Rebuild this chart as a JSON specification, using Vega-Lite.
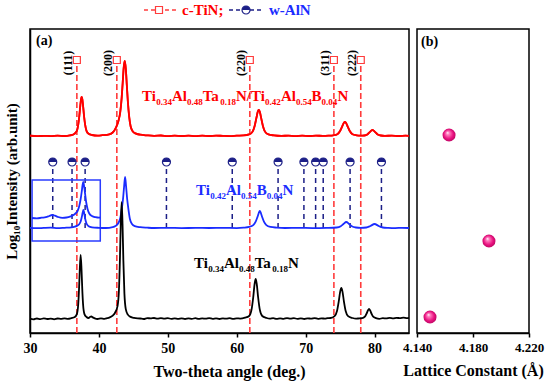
{
 "$schema": "https://vega.github.io/schema/vega-lite/v6.json",
 "padding": {"left": 3, "top": 2, "right": 5, "bottom": 5},
 "spacing": 8,
 "bounds": "flush",
 "config": {
  "font": "Liberation Serif",
  "view": {"stroke": "black", "strokeWidth": 1.5},
  "axis": {"labelFont": "Liberation Serif", "labelFontWeight": "bold", "labelFontSize": 14, "labelColor": "black", "titleFont": "Liberation Serif", "titleFontWeight": "bold", "titleFontSize": 16, "titleColor": "black", "domainColor": "black", "domainWidth": 1.5, "tickColor": "black", "tickWidth": 1.5, "tickSize": 4, "grid": false, "labelPadding": 4, "titlePadding": 8}
 },
 "datasets": {
  "red": [{"x":30,"y":197.3},{"x":31,"y":196.8},{"x":32,"y":197.2},{"x":33,"y":196.9},{"x":34,"y":197.4},{"x":35,"y":197.0},{"x":35.8,"y":197.6},{"x":36.3,"y":198.5},{"x":36.8,"y":202.1},{"x":37.0,"y":208.3},{"x":37.15,"y":216.5},{"x":37.3,"y":227.4},{"x":37.4,"y":233.7},{"x":37.5,"y":236},{"x":37.6,"y":233.7},{"x":37.7,"y":227.4},{"x":37.85,"y":216.5},{"x":38.0,"y":208.3},{"x":38.2,"y":202.1},{"x":38.5,"y":199.2},{"x":39.0,"y":198.0},{"x":39.8,"y":197.4},{"x":40.5,"y":197.8},{"x":41.5,"y":198.7},{"x":42.0,"y":200.5},{"x":42.3,"y":203.1},{"x":42.6,"y":207.4},{"x":42.85,"y":212.5},{"x":43.1,"y":221.2},{"x":43.3,"y":234.9},{"x":43.45,"y":250},{"x":43.6,"y":265.4},{"x":43.75,"y":272},{"x":43.9,"y":264.4},{"x":44.05,"y":247.9},{"x":44.2,"y":231.5},{"x":44.4,"y":215.8},{"x":44.6,"y":206.7},{"x":44.9,"y":201.8},{"x":45.3,"y":199.6},{"x":46.0,"y":198.3},{"x":47.0,"y":197.6},{"x":48,"y":197.2},{"x":49,"y":197.5},{"x":50,"y":196.9},{"x":51,"y":197.3},{"x":52,"y":197.0},{"x":53,"y":197.4},{"x":54,"y":196.8},{"x":55,"y":197.3},{"x":56,"y":197.0},{"x":57,"y":197.4},{"x":58,"y":197.1},{"x":59,"y":196.9},{"x":60,"y":197.3},{"x":61.0,"y":197.6},{"x":61.8,"y":198.6},{"x":62.3,"y":201.4},{"x":62.6,"y":207.1},{"x":62.85,"y":214.9},{"x":63.05,"y":221.2},{"x":63.2,"y":223},{"x":63.35,"y":221.2},{"x":63.55,"y":214.9},{"x":63.8,"y":207.1},{"x":64.1,"y":201.4},{"x":64.6,"y":198.6},{"x":65.4,"y":197.6},{"x":66.5,"y":197.1},{"x":67.5,"y":197.4},{"x":68.5,"y":196.9},{"x":69.5,"y":197.3},{"x":70.5,"y":197.0},{"x":71.5,"y":197.4},{"x":72.5,"y":197.1},{"x":73.3,"y":197.3},{"x":74.0,"y":197.7},{"x":74.6,"y":198.8},{"x":75.0,"y":202},{"x":75.3,"y":206.4},{"x":75.55,"y":210.2},{"x":75.7,"y":211},{"x":75.85,"y":210.2},{"x":76.1,"y":206.4},{"x":76.4,"y":202},{"x":76.8,"y":198.8},{"x":77.4,"y":197.7},{"x":78.0,"y":197.3},{"x":78.5,"y":197.5},{"x":79.0,"y":198.8},{"x":79.3,"y":200.8},{"x":79.55,"y":202.6},{"x":79.7,"y":203},{"x":79.85,"y":202.6},{"x":80.1,"y":200.8},{"x":80.4,"y":198.8},{"x":80.9,"y":197.5},{"x":81.5,"y":197.1},{"x":82.5,"y":197.4},{"x":83.5,"y":197.0},{"x":84.5,"y":197.3},{"x":85,"y":197.1}],
  "blue": [{"x":30,"y":105.2},{"x":31,"y":104.8},{"x":32,"y":105.1},{"x":33,"y":105.3},{"x":34,"y":104.9},{"x":35,"y":105.2},{"x":36,"y":105.6},{"x":36.5,"y":106.3},{"x":36.8,"y":107.1},{"x":37.1,"y":108.5},{"x":37.35,"y":111.5},{"x":37.5,"y":115.5},{"x":37.65,"y":120.5},{"x":37.75,"y":123},{"x":37.85,"y":120.5},{"x":38.0,"y":114.5},{"x":38.2,"y":109.5},{"x":38.5,"y":106.8},{"x":39.0,"y":105.7},{"x":40,"y":105.2},{"x":41,"y":105.0},{"x":42,"y":105.9},{"x":42.4,"y":107.0},{"x":42.8,"y":109.7},{"x":43.1,"y":115},{"x":43.35,"y":125.5},{"x":43.5,"y":134},{"x":43.65,"y":146},{"x":43.8,"y":156},{"x":43.95,"y":146},{"x":44.1,"y":134},{"x":44.25,"y":125.5},{"x":44.5,"y":114},{"x":44.8,"y":109},{"x":45.2,"y":106.8},{"x":46,"y":105.8},{"x":47,"y":105.3},{"x":48,"y":105.0},{"x":50,"y":105.2},{"x":52,"y":104.9},{"x":54,"y":105.1},{"x":56,"y":105.0},{"x":58,"y":105.2},{"x":60,"y":104.9},{"x":61,"y":105.3},{"x":61.8,"y":106.1},{"x":62.4,"y":107.9},{"x":62.75,"y":111.3},{"x":63.0,"y":115.8},{"x":63.2,"y":120},{"x":63.35,"y":122},{"x":63.5,"y":120},{"x":63.7,"y":115.8},{"x":63.95,"y":111.3},{"x":64.3,"y":107.9},{"x":64.9,"y":106.1},{"x":65.8,"y":105.4},{"x":67,"y":105.0},{"x":69,"y":105.2},{"x":71,"y":104.9},{"x":73,"y":105.1},{"x":74.5,"y":105.5},{"x":75.1,"y":106.8},{"x":75.5,"y":109},{"x":75.9,"y":111},{"x":76.3,"y":109},{"x":76.7,"y":106.8},{"x":77.3,"y":105.5},{"x":78,"y":105.1},{"x":78.8,"y":105.5},{"x":79.4,"y":107},{"x":80.0,"y":109},{"x":80.6,"y":107},{"x":81.2,"y":105.5},{"x":82,"y":105.1},{"x":83,"y":104.9},{"x":84,"y":105.2},{"x":85,"y":105.0}],
  "inset": [{"x":30.3,"y":115},{"x":31,"y":114.6},{"x":31.7,"y":115.3},{"x":32.3,"y":115.8},{"x":32.8,"y":117},{"x":33.2,"y":118},{"x":33.6,"y":117.4},{"x":34.1,"y":116},{"x":34.7,"y":115.2},{"x":35.3,"y":115.5},{"x":35.8,"y":116.3},{"x":36.2,"y":117.5},{"x":36.6,"y":119.5},{"x":36.9,"y":122},{"x":37.15,"y":127},{"x":37.35,"y":134},{"x":37.5,"y":141},{"x":37.62,"y":147.5},{"x":37.73,"y":151},{"x":37.85,"y":147},{"x":38.0,"y":139},{"x":38.15,"y":131},{"x":38.35,"y":124},{"x":38.6,"y":119.5},{"x":39.0,"y":117},{"x":39.5,"y":115.8},{"x":40.0,"y":115.3},{"x":40.2,"y":115.5}],
  "black": [{"x":30,"y":14.3},{"x":30.5,"y":13.6},{"x":31,"y":14.5},{"x":31.5,"y":13.9},{"x":32,"y":14.6},{"x":32.5,"y":14.0},{"x":33,"y":14.4},{"x":33.5,"y":13.7},{"x":34,"y":14.5},{"x":34.5,"y":14.1},{"x":35,"y":14.6},{"x":35.5,"y":14.2},{"x":36,"y":14.9},{"x":36.5,"y":16.0},{"x":36.8,"y":18.9},{"x":37.0,"y":28.7},{"x":37.12,"y":44.7},{"x":37.22,"y":63},{"x":37.35,"y":78},{"x":37.48,"y":63},{"x":37.58,"y":44.7},{"x":37.7,"y":28.7},{"x":37.9,"y":18.9},{"x":38.2,"y":16.0},{"x":38.5,"y":15.0},{"x":38.75,"y":16.2},{"x":38.9,"y":16.5},{"x":39.1,"y":15.6},{"x":39.4,"y":14.6},{"x":39.8,"y":14.0},{"x":40.3,"y":14.6},{"x":40.8,"y":14.2},{"x":41.2,"y":14.8},{"x":41.5,"y":15.4},{"x":42.0,"y":17.3},{"x":42.4,"y":21.0},{"x":42.7,"y":26.8},{"x":42.9,"y":41.8},{"x":43.05,"y":73.7},{"x":43.17,"y":109.2},{"x":43.3,"y":130.8},{"x":43.43,"y":108.5},{"x":43.55,"y":72.3},{"x":43.7,"y":39.6},{"x":43.9,"y":23.9},{"x":44.2,"y":18.4},{"x":44.6,"y":16.1},{"x":45.1,"y":15.1},{"x":46,"y":14.5},{"x":46.5,"y":14.0},{"x":47,"y":14.9},{"x":47.5,"y":14.6},{"x":48,"y":15.0},{"x":48.5,"y":14.4},{"x":49,"y":14.9},{"x":49.5,"y":14.3},{"x":50,"y":14.8},{"x":50.5,"y":14.2},{"x":51,"y":14.7},{"x":51.5,"y":14.1},{"x":52,"y":14.6},{"x":52.5,"y":14.0},{"x":53,"y":14.7},{"x":53.5,"y":14.2},{"x":54,"y":14.8},{"x":54.5,"y":14.1},{"x":55,"y":14.6},{"x":55.5,"y":14.3},{"x":56,"y":14.9},{"x":56.5,"y":14.2},{"x":57,"y":14.7},{"x":57.5,"y":14.0},{"x":58,"y":14.6},{"x":58.5,"y":14.3},{"x":59,"y":14.8},{"x":59.5,"y":14.1},{"x":60,"y":14.7},{"x":60.5,"y":14.4},{"x":61.2,"y":15.3},{"x":61.8,"y":17.0},{"x":62.15,"y":23.3},{"x":62.4,"y":36},{"x":62.6,"y":49.3},{"x":62.75,"y":54},{"x":62.9,"y":49.3},{"x":63.1,"y":36},{"x":63.35,"y":23.3},{"x":63.7,"y":17.0},{"x":64.3,"y":15.1},{"x":64.8,"y":14.3},{"x":65.3,"y":14.8},{"x":65.8,"y":14.1},{"x":66.3,"y":14.7},{"x":66.8,"y":14.2},{"x":67.3,"y":14.9},{"x":67.8,"y":14.3},{"x":68.3,"y":14.8},{"x":68.8,"y":14.2},{"x":69.3,"y":14.6},{"x":69.8,"y":14.0},{"x":70.3,"y":14.7},{"x":70.8,"y":14.3},{"x":71.3,"y":14.9},{"x":71.8,"y":14.2},{"x":72.3,"y":14.6},{"x":72.8,"y":14.4},{"x":73.2,"y":14.9},{"x":73.6,"y":15.0},{"x":74.2,"y":16.9},{"x":74.55,"y":22.0},{"x":74.8,"y":31.4},{"x":75.02,"y":41.6},{"x":75.18,"y":45},{"x":75.34,"y":41.6},{"x":75.56,"y":31.4},{"x":75.81,"y":22.0},{"x":76.16,"y":16.9},{"x":76.8,"y":15.0},{"x":77.3,"y":14.3},{"x":77.8,"y":14.7},{"x":78.2,"y":14.8},{"x":78.6,"y":16.3},{"x":78.85,"y":19.5},{"x":79.05,"y":22.8},{"x":79.2,"y":24},{"x":79.35,"y":22.8},{"x":79.55,"y":19.5},{"x":79.8,"y":16.3},{"x":80.2,"y":14.9},{"x":80.7,"y":14.2},{"x":81.2,"y":14.8},{"x":81.7,"y":14.6},{"x":82.2,"y":15.1},{"x":82.7,"y":14.7},{"x":83.2,"y":15.2},{"x":83.7,"y":14.8},{"x":84.2,"y":15.3},{"x":84.7,"y":14.9},{"x":85,"y":15.2}],
  "tin": [{"x":36.8,"hkl":"(111)"},{"x":42.6,"hkl":"(200)"},{"x":61.9,"hkl":"(220)"},{"x":74.1,"hkl":"(311)"},{"x":78.0,"hkl":"(222)"}],
  "aln": [{"x":33.3},{"x":36.1},{"x":38.0},{"x":49.8},{"x":59.35},{"x":66.0},{"x":69.75},{"x":71.45},{"x":72.55},{"x":76.45},{"x":81.0}],
  "labels": [
   {"s":"TiAlTaN/TiAlBN","part":"main","x":46.253,"y":232,"t":"Ti"},
   {"s":"TiAlTaN/TiAlBN","part":"sub","x":48.314,"y":228,"t":"0.34"},
   {"s":"TiAlTaN/TiAlBN","part":"main","x":50.592,"y":232,"t":"Al"},
   {"s":"TiAlTaN/TiAlBN","part":"sub","x":52.769,"y":228,"t":"0.48"},
   {"s":"TiAlTaN/TiAlBN","part":"main","x":55.062,"y":232,"t":"Ta"},
   {"s":"TiAlTaN/TiAlBN","part":"sub","x":57.602,"y":228,"t":"0.18"},
   {"s":"TiAlTaN/TiAlBN","part":"main","x":59.880,"y":232,"t":"N/Ti"},
   {"s":"TiAlTaN/TiAlBN","part":"sub","x":64.117,"y":228,"t":"0.42"},
   {"s":"TiAlTaN/TiAlBN","part":"main","x":66.410,"y":232,"t":"Al"},
   {"s":"TiAlTaN/TiAlBN","part":"sub","x":68.587,"y":228,"t":"0.54"},
   {"s":"TiAlTaN/TiAlBN","part":"main","x":70.865,"y":232,"t":"B"},
   {"s":"TiAlTaN/TiAlBN","part":"sub","x":72.316,"y":228,"t":"0.04"},
   {"s":"TiAlTaN/TiAlBN","part":"main","x":74.610,"y":232,"t":"N"},
   {"s":"TiAlBN","part":"main","x":54.090,"y":138,"t":"Ti"},
   {"s":"TiAlBN","part":"sub","x":56.151,"y":134,"t":"0.42"},
   {"s":"TiAlBN","part":"main","x":58.436,"y":138,"t":"Al"},
   {"s":"TiAlBN","part":"sub","x":60.613,"y":134,"t":"0.54"},
   {"s":"TiAlBN","part":"main","x":62.898,"y":138,"t":"B"},
   {"s":"TiAlBN","part":"sub","x":64.350,"y":134,"t":"0.04"},
   {"s":"TiAlBN","part":"main","x":66.635,"y":138,"t":"N"},
   {"s":"TiAlTaN","part":"main","x":53.799,"y":65,"t":"Ti"},
   {"s":"TiAlTaN","part":"sub","x":55.860,"y":61,"t":"0.34"},
   {"s":"TiAlTaN","part":"main","x":58.146,"y":65,"t":"Al"},
   {"s":"TiAlTaN","part":"sub","x":60.323,"y":61,"t":"0.48"},
   {"s":"TiAlTaN","part":"main","x":62.609,"y":65,"t":"Ta"},
   {"s":"TiAlTaN","part":"sub","x":65.148,"y":61,"t":"0.18"},
   {"s":"TiAlTaN","part":"main","x":67.434,"y":65,"t":"N"}
  ],
  "legend": [
   {"s":"c-TiN","x":46.54,"x2":51.19,"xm":48.72,"tx":52.06,"y":323,"t":"c-TiN;"},
   {"s":"w-AlN","x":58.88,"x2":63.67,"xm":61.35,"tx":64.68,"y":323,"t":"w-AlN"}
  ],
  "lattice": [
   {"s":"Ti0.34Al0.48Ta0.18N/Ti0.42Al0.54B0.04N","a":4.1629,"y":198},
   {"s":"Ti0.42Al0.54B0.04N","a":4.1914,"y":92},
   {"s":"Ti0.34Al0.48Ta0.18N","a":4.1493,"y":16}
  ]
 },
 "hconcat": [
  {
   "width": 379, "height": 304,
   "layer": [
    {"data": {"name": "red"}, "mark": {"type": "line", "color": "#ff0000", "strokeWidth": 1.8, "interpolate": "monotone"},
     "encoding": {
      "x": {"field": "x", "type": "quantitative", "scale": {"domain": [30, 85], "nice": false, "zero": false},
            "axis": {"title": "Two-theta angle (deg.)", "values": [30,35,40,45,50,55,60,65,70,75,80], "labelExpr": "datum.value % 10 === 0 ? datum.label : ''", "labelFlush": false, "labelOverlap": false, "titleX": 199}},
      "y": {"field": "y", "type": "quantitative", "scale": {"domain": [0, 304], "nice": false, "zero": false},
            "axis": {"title": "Log₁₀Intensity (arb.unit)", "labels": false, "ticks": false, "titleFontSize": 15, "titlePadding": 11}}
     }},
    {"data": {"name": "tin"}, "mark": {"type": "rule", "color": "#ff3c3c", "strokeWidth": 1.6, "strokeDash": [6, 3]},
     "encoding": {"x": {"field": "x", "type": "quantitative", "scale": {"domain": [30, 85], "nice": false, "zero": false}},
                  "y": {"datum": 0, "type": "quantitative", "scale": {"domain": [0, 304], "nice": false, "zero": false}}, "y2": {"datum": 269}}},
    {"data": {"name": "aln"}, "mark": {"type": "rule", "color": "#1c1f87", "strokeWidth": 1.5, "strokeDash": [5, 4]},
     "encoding": {"x": {"field": "x", "type": "quantitative", "scale": {"domain": [30, 85], "nice": false, "zero": false}},
                  "y": {"datum": 105, "type": "quantitative", "scale": {"domain": [0, 304], "nice": false, "zero": false}}, "y2": {"datum": 166}}},
    {"data": {"values": [{"x": 30.3, "x2": 40.2, "y": 92, "y2": 153}]}, "mark": {"type": "rect", "filled": false, "color": "#2a3cff", "strokeWidth": 1.5},
     "encoding": {"x": {"field": "x", "type": "quantitative", "scale": {"domain": [30, 85], "nice": false, "zero": false}}, "x2": {"field": "x2"},
                  "y": {"field": "y", "type": "quantitative", "scale": {"domain": [0, 304], "nice": false, "zero": false}}, "y2": {"field": "y2"}}},
    {"data": {"name": "red"}, "mark": {"type": "line", "color": "#ff0000", "strokeWidth": 1.8, "interpolate": "monotone"},
     "encoding": {"x": {"field": "x", "type": "quantitative", "scale": {"domain": [30, 85], "nice": false, "zero": false}},
                  "y": {"field": "y", "type": "quantitative", "scale": {"domain": [0, 304], "nice": false, "zero": false}}}},
    {"data": {"name": "blue"}, "mark": {"type": "line", "color": "#1a2cff", "strokeWidth": 1.8, "interpolate": "monotone"},
     "encoding": {"x": {"field": "x", "type": "quantitative", "scale": {"domain": [30, 85], "nice": false, "zero": false}},
                  "y": {"field": "y", "type": "quantitative", "scale": {"domain": [0, 304], "nice": false, "zero": false}}}},
    {"data": {"name": "inset"}, "mark": {"type": "line", "color": "#1a2cff", "strokeWidth": 1.8, "interpolate": "monotone"},
     "encoding": {"x": {"field": "x", "type": "quantitative", "scale": {"domain": [30, 85], "nice": false, "zero": false}},
                  "y": {"field": "y", "type": "quantitative", "scale": {"domain": [0, 304], "nice": false, "zero": false}}}},
    {"data": {"name": "black"}, "mark": {"type": "line", "color": "#000000", "strokeWidth": 1.8, "interpolate": "monotone"},
     "encoding": {"x": {"field": "x", "type": "quantitative", "scale": {"domain": [30, 85], "nice": false, "zero": false}},
                  "y": {"field": "y", "type": "quantitative", "scale": {"domain": [0, 304], "nice": false, "zero": false}}}},
    {"data": {"name": "tin"}, "mark": {"type": "point", "shape": "square", "size": 49, "filled": false, "fill": "white", "fillOpacity": 1, "stroke": "#ff3c3c", "strokeWidth": 1.2, "opacity": 1},
     "encoding": {"x": {"field": "x", "type": "quantitative", "scale": {"domain": [30, 85], "nice": false, "zero": false}},
                  "y": {"datum": 273, "type": "quantitative", "scale": {"domain": [0, 304], "nice": false, "zero": false}}}},
    {"data": {"name": "aln"}, "mark": {"type": "point", "shape": "circle", "size": 64, "filled": false, "fill": "white", "fillOpacity": 1, "stroke": "#1c1f87", "strokeWidth": 1.2, "opacity": 1},
     "encoding": {"x": {"field": "x", "type": "quantitative", "scale": {"domain": [30, 85], "nice": false, "zero": false}},
                  "y": {"datum": 171, "type": "quantitative", "scale": {"domain": [0, 304], "nice": false, "zero": false}}}},
    {"data": {"name": "aln"}, "mark": {"type": "point", "shape": "M-1,0A1,1,0,0,1,1,0Z", "size": 64, "filled": true, "color": "#1c1f87", "opacity": 1},
     "encoding": {"x": {"field": "x", "type": "quantitative", "scale": {"domain": [30, 85], "nice": false, "zero": false}},
                  "y": {"datum": 171, "type": "quantitative", "scale": {"domain": [0, 304], "nice": false, "zero": false}}}},
    {"data": {"name": "tin"}, "mark": {"type": "text", "angle": 270, "dy": -9, "align": "center", "baseline": "middle", "font": "Liberation Serif", "fontWeight": "bold", "fontSize": 12, "color": "black"},
     "encoding": {"x": {"field": "x", "type": "quantitative", "scale": {"domain": [30, 85], "nice": false, "zero": false}},
                  "y": {"datum": 270, "type": "quantitative", "scale": {"domain": [0, 304], "nice": false, "zero": false}}, "text": {"field": "hkl"}}},
    {"data": {"name": "labels"}, "transform": [{"filter": "datum.part === 'main'"}],
     "mark": {"type": "text", "align": "left", "baseline": "alphabetic", "font": "Liberation Serif", "fontWeight": "bold", "fontSize": 15},
     "encoding": {"x": {"field": "x", "type": "quantitative", "scale": {"domain": [30, 85], "nice": false, "zero": false}},
                  "y": {"field": "y", "type": "quantitative", "scale": {"domain": [0, 304], "nice": false, "zero": false}},
                  "text": {"field": "t"}, "color": {"field": "s", "type": "nominal", "legend": null, "scale": {"domain": ["TiAlTaN/TiAlBN", "TiAlBN", "TiAlTaN"], "range": ["#ff0000", "#1a2cff", "#000000"]}}}},
    {"data": {"name": "labels"}, "transform": [{"filter": "datum.part === 'sub'"}],
     "mark": {"type": "text", "align": "left", "baseline": "alphabetic", "font": "Liberation Serif", "fontWeight": "bold", "fontSize": 9},
     "encoding": {"x": {"field": "x", "type": "quantitative", "scale": {"domain": [30, 85], "nice": false, "zero": false}},
                  "y": {"field": "y", "type": "quantitative", "scale": {"domain": [0, 304], "nice": false, "zero": false}},
                  "text": {"field": "t"}, "color": {"field": "s", "type": "nominal", "legend": null, "scale": {"domain": ["TiAlTaN/TiAlBN", "TiAlBN", "TiAlTaN"], "range": ["#ff0000", "#1a2cff", "#000000"]}}}},
    {"data": {"name": "legend"}, "transform": [{"filter": "datum.s === 'c-TiN'"}], "mark": {"type": "rule", "color": "#ff3c3c", "strokeWidth": 1.3, "strokeDash": [4, 3]},
     "encoding": {"x": {"field": "x", "type": "quantitative", "scale": {"domain": [30, 85], "nice": false, "zero": false}}, "x2": {"field": "x2"},
                  "y": {"field": "y", "type": "quantitative", "scale": {"domain": [0, 304], "nice": false, "zero": false}}}},
    {"data": {"name": "legend"}, "transform": [{"filter": "datum.s === 'w-AlN'"}], "mark": {"type": "rule", "color": "#1c1f87", "strokeWidth": 1.3, "strokeDash": [4, 3]},
     "encoding": {"x": {"field": "x", "type": "quantitative", "scale": {"domain": [30, 85], "nice": false, "zero": false}}, "x2": {"field": "x2"},
                  "y": {"field": "y", "type": "quantitative", "scale": {"domain": [0, 304], "nice": false, "zero": false}}}},
    {"data": {"name": "legend"}, "transform": [{"filter": "datum.s === 'c-TiN'"}], "mark": {"type": "point", "shape": "square", "size": 49, "filled": false, "fill": "white", "fillOpacity": 1, "stroke": "#ff3c3c", "strokeWidth": 1.2, "opacity": 1},
     "encoding": {"x": {"field": "xm", "type": "quantitative", "scale": {"domain": [30, 85], "nice": false, "zero": false}},
                  "y": {"field": "y", "type": "quantitative", "scale": {"domain": [0, 304], "nice": false, "zero": false}}}},
    {"data": {"name": "legend"}, "transform": [{"filter": "datum.s === 'w-AlN'"}], "mark": {"type": "point", "shape": "circle", "size": 64, "filled": false, "fill": "white", "fillOpacity": 1, "stroke": "#1c1f87", "strokeWidth": 1.2, "opacity": 1},
     "encoding": {"x": {"field": "xm", "type": "quantitative", "scale": {"domain": [30, 85], "nice": false, "zero": false}},
                  "y": {"field": "y", "type": "quantitative", "scale": {"domain": [0, 304], "nice": false, "zero": false}}}},
    {"data": {"name": "legend"}, "transform": [{"filter": "datum.s === 'w-AlN'"}], "mark": {"type": "point", "shape": "M-1,0A1,1,0,0,1,1,0Z", "size": 64, "filled": true, "color": "#1c1f87", "opacity": 1},
     "encoding": {"x": {"field": "xm", "type": "quantitative", "scale": {"domain": [30, 85], "nice": false, "zero": false}},
                  "y": {"field": "y", "type": "quantitative", "scale": {"domain": [0, 304], "nice": false, "zero": false}}}},
    {"data": {"name": "legend"}, "mark": {"type": "text", "align": "left", "baseline": "middle", "font": "Liberation Serif", "fontWeight": "bold", "fontSize": 15},
     "encoding": {"x": {"field": "tx", "type": "quantitative", "scale": {"domain": [30, 85], "nice": false, "zero": false}},
                  "y": {"field": "y", "type": "quantitative", "scale": {"domain": [0, 304], "nice": false, "zero": false}},
                  "text": {"field": "t"}, "color": {"field": "s", "type": "nominal", "legend": null, "scale": {"domain": ["c-TiN", "w-AlN"], "range": ["#ff0000", "#1c1f87"]}}}},
    {"data": {"values": [{"t": "(a)"}]}, "mark": {"type": "text", "align": "left", "baseline": "middle", "font": "Liberation Serif", "fontWeight": "bold", "fontSize": 14, "color": "black"},
     "encoding": {"x": {"datum": 30.87, "type": "quantitative", "scale": {"domain": [30, 85], "nice": false, "zero": false}},
                  "y": {"datum": 292, "type": "quantitative", "scale": {"domain": [0, 304], "nice": false, "zero": false}}, "text": {"field": "t"}}}
   ]
  },
  {
   "width": 112, "height": 304,
   "layer": [
    {"data": {"name": "lattice"},
     "mark": {"type": "point", "filled": true, "size": 170, "opacity": 1,
              "color": {"gradient": "radial", "x1": 0.38, "y1": 0.32, "r1": 0, "x2": 0.5, "y2": 0.5, "r2": 0.55,
                        "stops": [{"offset": 0, "color": "#ffffff"}, {"offset": 0.22, "color": "#ff7fc0"}, {"offset": 0.65, "color": "#ea1280"}, {"offset": 1, "color": "#b5065e"}]}},
     "encoding": {
      "x": {"field": "a", "type": "quantitative", "scale": {"domain": [4.14, 4.22], "nice": false, "zero": false},
            "axis": {"title": "Lattice Constant (Å)", "values": [4.14, 4.16, 4.18, 4.2, 4.22], "format": ".3f", "labelExpr": "abs(datum.value - 4.16) < 0.001 || abs(datum.value - 4.2) < 0.001 ? '' : datum.label", "labelFlush": false, "labelOverlap": false, "labelFontSize": 13}},
      "y": {"field": "y", "type": "quantitative", "scale": {"domain": [0, 304], "nice": false, "zero": false}, "axis": null}
     }},
    {"data": {"values": [{"t": "(b)"}]}, "mark": {"type": "text", "align": "left", "baseline": "middle", "font": "Liberation Serif", "fontWeight": "bold", "fontSize": 14, "color": "black"},
     "encoding": {"x": {"datum": 4.1429, "type": "quantitative", "scale": {"domain": [4.14, 4.22], "nice": false, "zero": false}},
                  "y": {"datum": 291, "type": "quantitative", "scale": {"domain": [0, 304], "nice": false, "zero": false}}, "text": {"field": "t"}}}
   ]
  }
 ]
}
